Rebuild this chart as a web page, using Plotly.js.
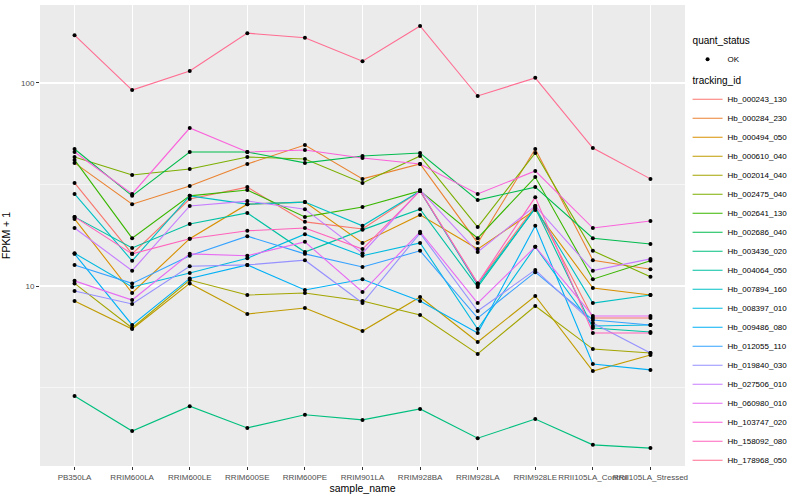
<!DOCTYPE html>
<html><head><meta charset="utf-8">
<script src="https://cdn.plot.ly/plotly-3.0.1.min.js"></script>
<style>html,body{margin:0;padding:0;background:#fff}#chart{width:800px;height:500px}</style>
</head><body><div id="chart"></div>
<script>
// sample names (x categories)
const samples = ["PB350LA","RRIM600LA","RRIM600LE","RRIM600SE","RRIM600PE","RRIM901LA","RRIM928BA","RRIM928LA","RRIM928LE","RRII105LA_Control","RRII105LA_Stressed"];

// tracking ids (legend order)
const trackingIds = ["Hb_000243_130","Hb_000284_230","Hb_000494_050","Hb_000610_040","Hb_002014_040","Hb_002475_040","Hb_002641_130","Hb_002686_040","Hb_003436_020","Hb_004064_050","Hb_007894_160","Hb_008397_010","Hb_009486_080","Hb_012055_110","Hb_019840_030","Hb_027506_010","Hb_060980_010","Hb_103747_020","Hb_158092_080","Hb_178968_050"];

// line colours (ggplot hue palette, 20 levels)
const lineColors = ["#F8766D","#EA8331","#D89000","#C09B00","#A3A500","#7CAE00","#39B600","#00BB4E","#00BF7D","#00C1A3","#00BFC4","#00BAE0","#00B0F6","#35A2FF","#9590FF","#C77CFF","#E76BF3","#FA62DB","#FF62BC","#FF6C91"];

// FPKM + 1 per tracking id, in sample order
const hb000243_130 = [32.2,14.4,26.8,30.7,20.7,19.1,29.4,10.3,24.8,6.95,6.95];
const hb000284_230 = [40.4,25.3,31.1,39.9,49.5,33.7,39.9,16.3,47.3,13.4,12.1];
const hb000494_050 = [21.4,9.24,17.1,25.3,25.9,16.3,22.4,15.2,23.7,9.78,9.03];
const hb000610_040 = [8.43,6.14,10.3,7.28,7.79,6.00,8.83,5.30,8.93,3.81,4.57];
const hb002014_040 = [10.3,6.21,10.7,9.03,9.24,8.43,7.20,4.63,7.97,4.89,4.68];
const hb002475_040 = [43.2,35.2,37.7,43.2,42.2,32.2,43.7,19.5,45.2,14.9,11.1];
const hb002641_130 = [41.8,17.2,27.8,29.7,21.9,24.5,29.4,17.2,34.4,10.8,13.3];
const hb002686_040 = [47.3,27.8,45.7,45.7,40.4,43.7,45.2,26.5,30.7,17.2,16.1];
const hb003436_020 = [2.87,1.93,2.56,2.00,2.32,2.19,2.48,1.78,2.21,1.65,1.59];
const hb004064_050 = [21.9,15.4,20.2,22.9,14.7,18.9,23.9,9.89,24.2,6.21,5.93];
const hb007894_160 = [28.4,13.3,27.8,25.3,25.9,19.8,29.4,10.1,24.2,8.24,9.03];
const hb008397_010 = [14.5,9.89,11.6,13.7,18.0,14.1,16.3,6.14,15.6,6.35,6.43];
const hb009486_080 = [14.4,6.43,10.9,12.7,9.56,10.8,8.43,5.87,19.8,4.13,3.86];
const hb012055_110 = [12.7,10.3,14.1,17.6,14.4,12.4,14.9,6.95,11.7,6.80,6.43];
const hb019840_030 = [9.45,8.15,12.5,12.7,13.4,8.24,18.2,7.53,12.0,6.57,4.68];
const hb027506_010 = [19.3,11.9,24.8,26.2,23.9,14.5,29.7,14.7,24.8,11.9,13.6];
const hb060980_010 = [10.6,8.53,14.4,14.1,16.5,9.34,18.5,8.24,15.6,7.12,7.12];
const hb103747_020 = [45.7,28.4,60.0,45.7,46.8,42.7,39.9,28.4,36.9,19.3,20.9];
const hb158092_080 = [21.9,14.4,17.1,18.7,19.3,15.2,29.4,10.3,27.4,5.87,5.87];
const hb178968_050 = [172,92.3,114.5,176,167,128,191,86.3,106,47.8,33.7];

const seriesValues = [hb000243_130,hb000284_230,hb000494_050,hb000610_040,hb002014_040,hb002475_040,hb002641_130,hb002686_040,hb003436_020,hb004064_050,hb007894_160,hb008397_010,hb009486_080,hb012055_110,hb019840_030,hb027506_010,hb060980_010,hb103747_020,hb158092_080,hb178968_050];

const FONT = "Liberation Sans, Arial, sans-serif";

const traces = seriesValues.map((vals, i) => ({
  type: "scatter", mode: "lines",
  x: samples, y: vals,
  name: trackingIds[i],
  line: {color: lineColors[i], width: 1.1},
  legendgroup: "tracking",
  legendgrouptitle: {text: "tracking_id", font: {family: FONT, size: 10, color: "#000"}},
  legendrank: 100 + i,
  hoverinfo: "name+y"
}));

// all points, quant_status = OK
const allX = [], allY = [];
seriesValues.forEach(vals => vals.forEach((v, j) => { allX.push(samples[j]); allY.push(v); }));
traces.push({
  type: "scatter", mode: "markers",
  x: allX, y: allY, name: "OK",
  marker: {color: "#000", size: 4},
  legendgroup: "quant",
  legendgrouptitle: {text: "quant_status", font: {family: FONT, size: 10, color: "#000"}},
  legendrank: 1,
  hoverinfo: "y"
});

const layout = {
  width: 800, height: 500,
  margin: {l: 40, r: 115, t: 5, b: 34},
  paper_bgcolor: "#fff",
  plot_bgcolor: "#EBEBEB",
  font: {family: FONT, size: 8, color: "#4D4D4D"},
  showlegend: true,
  legend: {
    x: 1.004, xanchor: "left", y: 0.955, yanchor: "top",
    traceorder: "grouped", tracegroupgap: 2,
    font: {family: FONT, size: 8, color: "#000"},
    itemwidth: 30, bgcolor: "rgba(0,0,0,0)"
  },
  xaxis: {
    type: "category", range: [-0.6, 10.6],
    showgrid: true, gridcolor: "#fff", gridwidth: 1.1,
    zeroline: false, showline: false,
    ticks: "outside", ticklen: 3, tickcolor: "#333", tickwidth: 1,
    tickangle: 0,
    tickfont: {family: FONT, size: 8, color: "#4D4D4D"},
    title: {text: "sample_name", font: {family: FONT, size: 10.5, color: "#000"}, standoff: 4}
  },
  yaxis: {
    type: "log", range: [0.1133, 2.3842],
    tickmode: "array", tickvals: [10, 100], ticktext: ["10", "100"],
    showgrid: true, gridcolor: "#fff", gridwidth: 1.1,
    minor: {tickmode: "array", tickvals: [3.1623, 31.623], showgrid: true, gridcolor: "#fff", gridwidth: 0.55, ticks: ""},
    zeroline: false, showline: false,
    ticks: "outside", ticklen: 3, tickcolor: "#333", tickwidth: 1,
    tickfont: {family: FONT, size: 8, color: "#4D4D4D"},
    title: {text: "FPKM + 1", font: {family: FONT, size: 10.5, color: "#000"}, standoff: 8}
  }
};

Plotly.newPlot("chart", traces, layout, {displayModeBar: false, staticPlot: true});
</script>
</body></html>
